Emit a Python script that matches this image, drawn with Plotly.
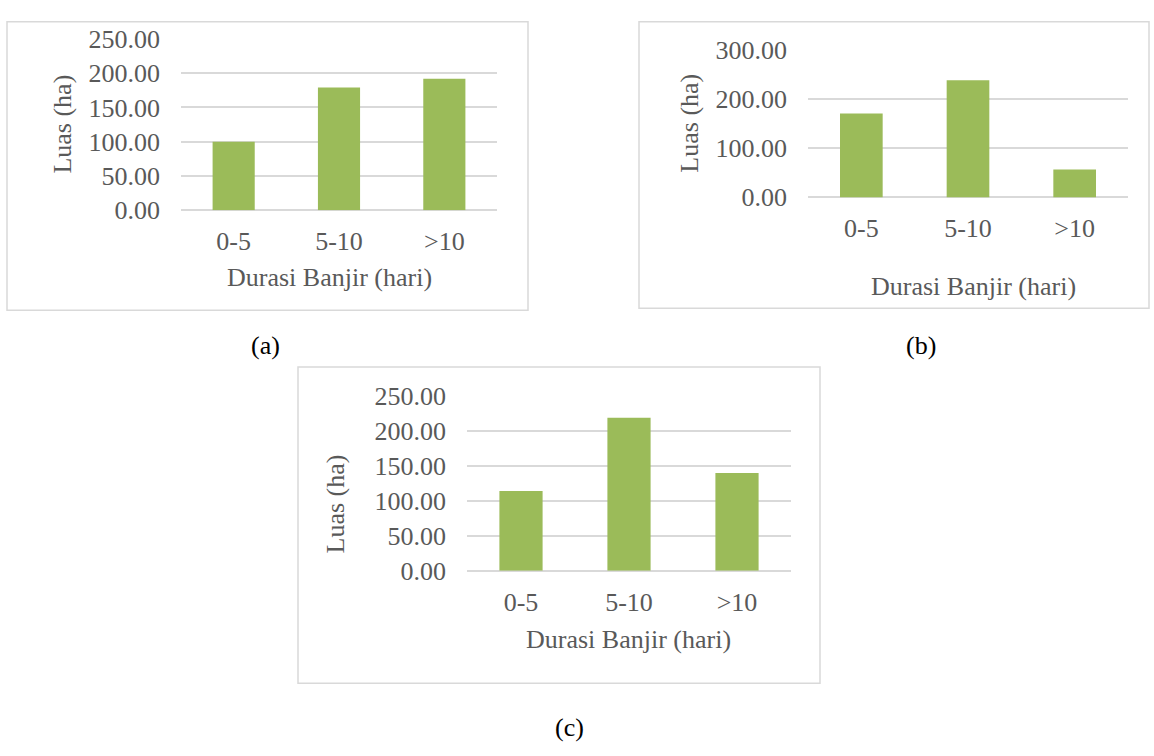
import plotly.graph_objects as go

# Flood duration classes and flooded area (ha) for the three sites
categories = ["0-5", "5-10", ">10"]
area_a = [100.0, 179.0, 192.0]
area_b = [171.0, 239.0, 57.0]
area_c = [114.0, 219.0, 140.0]

ticks_a = [0, 50, 100, 150, 200, 250]
ticks_b = [0, 100, 200, 300]
ticks_c = [0, 50, 100, 150, 200, 250]

panel_labels = ["(a)", "(b)", "(c)"]
x_title = "Durasi Banjir (hari)"
y_title = "Luas (ha)"

W, H = 1154, 756
BAR = "#9BBB59"
GRID = "#D9D9D9"
TXT = "#595959"
FONT = "Liberation Serif, Times New Roman, serif"
FS = 26


def px(x):
    return x / W


def py(y):
    return 1 - y / H


fig = go.Figure()

# plot-area boxes in pixels: (left, top, right, bottom)
panels = [
    dict(vals=area_a, ticks=ticks_a, area=(181, 26, 497, 204), frame=(7, 8, 528, 308),
         ytitle=(63, 115), xtitle=(329, 274), label=(265, 345)),
    dict(vals=area_b, ticks=ticks_b, area=(808, 37.7, 1128, 190.7), frame=(639, 8, 1149, 306),
         ytitle=(690, 114), xtitle=(973, 283), label=(921, 345)),
    dict(vals=area_c, ticks=ticks_c, area=(467, 397.3, 791, 579), frame=(298, 367, 820, 696),
         ytitle=(335, 510), xtitle=(628, 650), label=(569, 742)),
]

shapes = []
annotations = []
for i, p in enumerate(panels, start=1):
    suffix = "" if i == 1 else str(i)
    fig.add_trace(go.Bar(
        x=categories, y=p["vals"], marker=dict(color=BAR, line=dict(width=0)),
        xaxis="x" + suffix, yaxis="y" + suffix, showlegend=False, hoverinfo="x+y",
    ))
    l, t, r, b = p["area"]
    fig.update_layout(**{
        "xaxis" + suffix: dict(
            domain=[px(l), px(r)], anchor="y" + suffix, type="category",
            showgrid=False, zeroline=False, showline=False, ticks="",
            tickfont=dict(family=FONT, size=FS, color=TXT), ticklabelstandoff=13,
            fixedrange=True,
        ),
        "yaxis" + suffix: dict(
            domain=[py(b), py(t)], anchor="x" + suffix,
            range=[0, max(p["ticks"])], tickvals=p["ticks"], tickformat=".2f",
            showgrid=True, gridcolor=GRID, gridwidth=1.5,
            zeroline=True, zerolinecolor=GRID, zerolinewidth=1.5,
            showline=False, ticks="",
            tickfont=dict(family=FONT, size=FS, color=TXT), ticklabelstandoff=20,
            fixedrange=True,
        ),
    })
    fl, ft, fr, fb = p["frame"]
    shapes.append(dict(type="rect", xref="paper", yref="paper",
                       x0=px(fl), x1=px(fr), y0=py(fb), y1=py(ft),
                       line=dict(color=GRID, width=1.5), layer="below"))
    annotations.append(dict(text=y_title, textangle=-90, xref="paper", yref="paper",
                            x=px(p["ytitle"][0]), y=py(p["ytitle"][1]),
                            xanchor="center", yanchor="middle", showarrow=False,
                            font=dict(family=FONT, size=FS, color=TXT)))
    annotations.append(dict(text=x_title, xref="paper", yref="paper",
                            x=px(p["xtitle"][0]), y=py(p["xtitle"][1]),
                            xanchor="center", yanchor="middle", showarrow=False,
                            font=dict(family=FONT, size=FS, color=TXT)))
    annotations.append(dict(text=panel_labels[i - 1], xref="paper", yref="paper",
                            x=px(p["label"][0]), y=py(p["label"][1]),
                            xanchor="center", yanchor="middle", showarrow=False,
                            font=dict(family=FONT, size=FS, color="#000000")))

fig.update_layout(
    width=W, height=H, margin=dict(l=0, r=0, t=0, b=0),
    paper_bgcolor="white", plot_bgcolor="white",
    bargap=0.6, shapes=shapes, annotations=annotations,
)

fig.write_html("out.html")
